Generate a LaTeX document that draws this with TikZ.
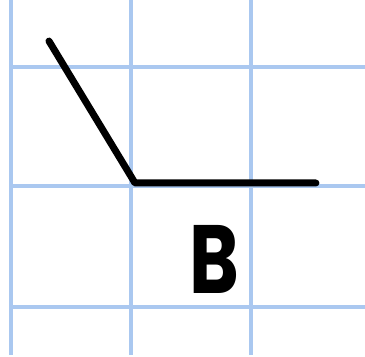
\documentclass[tikz,border=0pt]{standalone}
\usepackage{fontspec}
\setsansfont{Poppins}
\definecolor{gridblue}{RGB}{170,200,240}
\begin{document}
\begin{tikzpicture}[
      gridline/.style={draw=gridblue,line width=0.8pt},
      ray/.style={line width=1.65pt,line cap=round,line join=round},
      lbl/.style={font=\sffamily\bfseries\fontsize{23}{23}\selectfont,xscale=0.78}
    ]
    \useasboundingbox (0,0) rectangle (3.042,-2.975);
    % Squared paper
    \foreach \x in {0.092,1.092,2.092}
      \draw[gridline] (\x,0) -- (\x,-2.96);
    \foreach \y in {-0.558,-1.55,-2.558}
      \draw[gridline] (0.092,\y) -- (3.042,\y);
    % Angle
    \coordinate (a) at (0.408,-0.342);
    \coordinate (vtx) at (1.125,-1.525);
    \coordinate (b) at (2.633,-1.525);
    \draw[ray] (a) -- (vtx) -- (b);
    % Label
    \node[lbl] (name) at (1.79,-2.16) {B};
  \end{tikzpicture}
\end{document}
